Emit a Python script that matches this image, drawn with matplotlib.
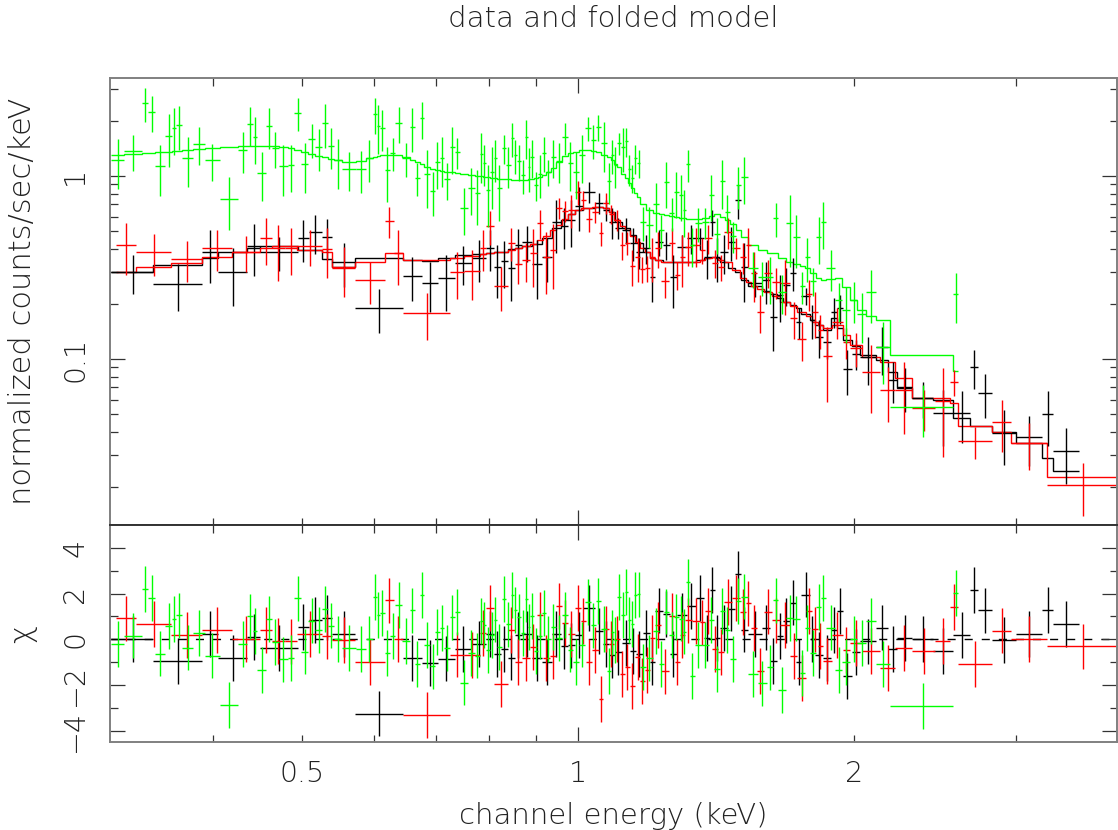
"""
XSPEC-style "data and folded model" plot: three spectra with their folded
model (top, log-log) and the residuals in units of sigma (bottom).
"""
import numpy as np
import matplotlib
matplotlib.use("Agg")
import matplotlib.pyplot as plt
from matplotlib.ticker import FixedLocator, FuncFormatter, NullFormatter

plt.rcParams["font.family"] = ["DejaVu Sans"]
plt.rcParams["font.weight"] = "light"
plt.rcParams["ytick.alignment"] = "center"

# ---- spectrum 1 (black) -----------------------------------------------------
black_edges = [0.310, 0.344, 0.389, 0.405, 0.436, 0.450, 0.495, 0.509, 0.526, 0.540,
               0.571, 0.644, 0.676, 0.704, 0.734, 0.766, 0.794, 0.810, 0.824, 0.839,
               0.854, 0.869, 0.891, 0.913, 0.937, 0.958, 0.975, 0.992, 1.013, 1.044,
               1.065, 1.081, 1.097, 1.117, 1.139, 1.157, 1.177, 1.198, 1.213, 1.238,
               1.260, 1.282, 1.315, 1.345, 1.372, 1.393, 1.411, 1.428, 1.457, 1.483,
               1.506, 1.532, 1.587, 1.620, 1.648, 1.673, 1.703, 1.729, 1.751, 1.791,
               1.813, 1.850, 1.888, 1.916, 1.945, 1.990, 2.030, 2.113, 2.178, 2.228,
               2.313, 2.438, 2.564, 2.676, 2.731, 2.828, 3.004, 3.206, 3.296, 3.519]
black_rate = [0.299, 0.257, 0.384, 0.299, 0.415, 0.384, 0.458, 0.494, 0.464, 0.339,
              0.190, 0.284, 0.260, 0.277, 0.335, 0.356, 0.404, 0.318, 0.343, 0.314,
              0.420, 0.436, 0.330, 0.361, 0.560, 0.533, 0.575, 0.686, 0.818, 0.712,
              0.652, 0.560, 0.520, 0.507, 0.431, 0.384, 0.404, 0.280, 0.436, 0.420,
              0.280, 0.409, 0.458, 0.458, 0.361, 0.560, 0.361, 0.384, 0.436, 0.739,
              0.318, 0.260, 0.270, 0.170, 0.224, 0.254, 0.295, 0.159, 0.221, 0.163,
              0.132, 0.124, 0.181, 0.190, 0.088, 0.107, 0.102, 0.116, 0.0768, 0.0702,
              0.0612, 0.0507, 0.0507, 0.0903, 0.0652, 0.0395, 0.0375, 0.0501, 0.0314]
black_err = [0.071, 0.073, 0.123, 0.105, 0.132, 0.080, 0.117, 0.118, 0.118, 0.092,
             0.051, 0.077, 0.079, 0.093, 0.080, 0.091, 0.103, 0.102, 0.099, 0.106,
             0.093, 0.097, 0.117, 0.097, 0.179, 0.136, 0.164, 0.185, 0.109, 0.095,
             0.087, 0.109, 0.069, 0.082, 0.089, 0.074, 0.072, 0.076, 0.071, 0.074,
             0.090, 0.067, 0.082, 0.062, 0.086, 0.092, 0.097, 0.092, 0.091, 0.154,
             0.113, 0.042, 0.069, 0.059, 0.064, 0.060, 0.061, 0.031, 0.023, 0.034,
             0.031, 0.024, 0.034, 0.034, 0.024, 0.020, 0.030, 0.034, 0.0195, 0.019,
             0.0137, 0.017, 0.016, 0.022, 0.0175, 0.0132, 0.0114, 0.0168, 0.0106]
black_model = [0.299, 0.326, 0.356, 0.384, 0.404, 0.415, 0.394, 0.394, 0.352, 0.318,
               0.356, 0.347, 0.343, 0.356, 0.370, 0.375, 0.380, 0.384, 0.384, 0.399,
               0.404, 0.415, 0.425, 0.458, 0.520, 0.575, 0.620, 0.652, 0.669, 0.677,
               0.669, 0.636, 0.560, 0.520, 0.476, 0.431, 0.384, 0.356, 0.347, 0.339,
               0.339, 0.339, 0.339, 0.347, 0.356, 0.361, 0.356, 0.339, 0.314, 0.299,
               0.270, 0.250, 0.235, 0.226, 0.215, 0.205, 0.197, 0.190, 0.176, 0.163,
               0.153, 0.144, 0.167, 0.148, 0.127, 0.118, 0.105, 0.0988, 0.085, 0.0693,
               0.0612, 0.0597, 0.0477, 0.0432, 0.0432, 0.0400, 0.0348, 0.0288, 0.0244]

# ---- spectrum 2 (red) -------------------------------------------------------
red_edges = [0.314, 0.330, 0.360, 0.389, 0.420, 0.450, 0.464, 0.479, 0.494, 0.526,
             0.540, 0.571, 0.616, 0.630, 0.644, 0.725, 0.751, 0.782, 0.794, 0.810,
             0.839, 0.854, 0.869, 0.886, 0.902, 0.916, 0.932, 0.946, 0.961, 0.975,
             0.992, 1.008, 1.020, 1.036, 1.054, 1.065, 1.081, 1.095, 1.111, 1.125,
             1.139, 1.154, 1.169, 1.183, 1.198, 1.213, 1.232, 1.257, 1.276, 1.292,
             1.308, 1.331, 1.358, 1.375, 1.400, 1.421, 1.443, 1.472, 1.502, 1.525,
             1.544, 1.567, 1.595, 1.627, 1.660, 1.703, 1.734, 1.773, 1.800, 1.827,
             1.850, 1.892, 1.945, 1.980, 2.040, 2.135, 2.217, 2.313, 2.451, 2.545,
             2.594, 2.828, 2.966, 3.246, 3.860]
red_rate = [0.420, 0.384, 0.352, 0.404, 0.384, 0.458, 0.404, 0.404, 0.415, 0.399,
            0.314, 0.270, 0.567, 0.380, 0.178, 0.299, 0.302, 0.404, 0.533, 0.250,
            0.431, 0.330, 0.347, 0.380, 0.553, 0.361, 0.394, 0.669, 0.644, 0.652,
            0.818, 0.739, 0.582, 0.636, 0.488, 0.712, 0.620, 0.575, 0.420, 0.431,
            0.322, 0.361, 0.310, 0.314, 0.361, 0.404, 0.267, 0.431, 0.288, 0.361,
            0.409, 0.420, 0.394, 0.458, 0.335, 0.318, 0.494, 0.404, 0.361, 0.420,
            0.295, 0.181, 0.295, 0.263, 0.260, 0.167, 0.128, 0.226, 0.181, 0.144,
            0.104, 0.159, 0.124, 0.115, 0.085, 0.0677, 0.0677, 0.0541, 0.0590, 0.0749,
            0.0356, 0.0454, 0.0348, 0.0205]
red_err = [0.133, 0.098, 0.090, 0.103, 0.086, 0.131, 0.136, 0.116, 0.092, 0.121,
           0.095, 0.069, 0.110, 0.127, 0.051, 0.085, 0.092, 0.103, 0.111, 0.068,
           0.089, 0.074, 0.084, 0.133, 0.099, 0.133, 0.153, 0.089, 0.086, 0.135,
           0.121, 0.089, 0.087, 0.085, 0.072, 0.095, 0.074, 0.077, 0.074, 0.063,
           0.072, 0.097, 0.051, 0.052, 0.097, 0.090, 0.051, 0.089, 0.051, 0.115,
           0.085, 0.100, 0.064, 0.082, 0.059, 0.052, 0.095, 0.054, 0.070, 0.100,
           0.089, 0.043, 0.052, 0.051, 0.087, 0.038, 0.031, 0.044, 0.051, 0.030,
           0.046, 0.031, 0.024, 0.024, 0.034, 0.0226, 0.0286, 0.0136, 0.030, 0.0122,
           0.0071, 0.0143, 0.0101, 0.0066]
red_model = [0.299, 0.318, 0.335, 0.361, 0.384, 0.404, 0.415, 0.415, 0.394, 0.384,
             0.318, 0.339, 0.380, 0.380, 0.347, 0.356, 0.366, 0.375, 0.380, 0.384,
             0.394, 0.404, 0.415, 0.425, 0.447, 0.470, 0.507, 0.540, 0.582, 0.620,
             0.652, 0.669, 0.669, 0.677, 0.677, 0.669, 0.636, 0.575, 0.533, 0.507,
             0.470, 0.436, 0.404, 0.384, 0.356, 0.347, 0.339, 0.339, 0.339, 0.339,
             0.339, 0.339, 0.347, 0.356, 0.361, 0.347, 0.339, 0.306, 0.277, 0.263,
             0.250, 0.241, 0.232, 0.221, 0.205, 0.195, 0.181, 0.172, 0.159, 0.153,
             0.148, 0.153, 0.135, 0.119, 0.103, 0.0963, 0.0785, 0.0612, 0.0612, 0.0576,
             0.0432, 0.0400, 0.0348, 0.0226]

# ---- spectrum 3 (green) -----------------------------------------------------
green_edges = [0.310, 0.320, 0.335, 0.340, 0.346, 0.355, 0.361, 0.365, 0.370, 0.381,
               0.392, 0.407, 0.426, 0.436, 0.442, 0.447, 0.457, 0.464, 0.472, 0.483,
               0.491, 0.499, 0.508, 0.517, 0.526, 0.534, 0.542, 0.553, 0.573, 0.587,
               0.598, 0.604, 0.608, 0.616, 0.624, 0.632, 0.643, 0.656, 0.664, 0.673,
               0.679, 0.690, 0.699, 0.707, 0.714, 0.725, 0.734, 0.743, 0.759, 0.772,
               0.782, 0.788, 0.794, 0.802, 0.810, 0.816, 0.826, 0.835, 0.845, 0.852,
               0.858, 0.867, 0.875, 0.882, 0.886, 0.895, 0.905, 0.913, 0.923, 0.934,
               0.946, 0.961, 0.975, 0.987, 1.003, 1.018, 1.033, 1.046, 1.059, 1.075,
               1.086, 1.095, 1.103, 1.114, 1.125, 1.134, 1.142, 1.151, 1.160, 1.169,
               1.186, 1.207, 1.226, 1.241, 1.257, 1.273, 1.288, 1.302, 1.311, 1.325,
               1.341, 1.365, 1.389, 1.407, 1.428, 1.446, 1.465, 1.487, 1.506, 1.532,
               1.571, 1.607, 1.632, 1.653, 1.686, 1.716, 1.746, 1.768, 1.791, 1.818,
               1.841, 1.864, 1.907, 1.941, 1.980, 2.015, 2.061, 2.113, 2.189, 2.564,
               2.597]
green_rate = [1.22, 1.37, 2.50, 2.24, 1.13, 1.65, 1.83, 1.90, 1.25, 1.50,
              1.22, 0.749, 1.39, 1.92, 1.63, 1.04, 1.88, 1.42, 1.13, 1.15,
              2.21, 1.16, 1.59, 1.44, 1.95, 1.46, 1.22, 1.09, 1.09, 1.25,
              2.18, 1.88, 1.83, 1.08, 1.34, 1.95, 1.25, 1.85, 0.975, 2.07,
              1.03, 0.828, 1.19, 1.25, 0.963, 1.44, 1.35, 0.669, 0.860, 0.807,
              1.32, 1.18, 0.839, 1.05, 1.25, 0.860, 1.42, 1.15, 1.61, 1.30,
              1.21, 1.01, 1.63, 1.12, 1.27, 0.893, 1.03, 1.34, 1.05, 1.27,
              1.21, 1.63, 1.18, 1.05, 1.30, 1.83, 1.57, 1.85, 1.51, 0.939,
              1.30, 1.15, 1.51, 1.44, 1.55, 1.09, 0.975, 1.25, 1.18, 0.560,
              0.540, 0.703, 0.507, 0.927, 0.628, 0.818, 0.787, 0.652, 1.16, 0.420,
              0.553, 0.560, 0.787, 0.482, 0.939, 0.636, 0.470, 0.893, 0.987, 0.314,
              0.280, 0.280, 0.589, 0.232, 0.553, 0.464, 0.250, 0.361, 0.267, 0.464,
              0.560, 0.314, 0.210, 0.185, 0.210, 0.176, 0.232, 0.116, 0.0548, 0.226]
green_err = [0.37, 0.31, 0.53, 0.50, 0.35, 0.53, 0.52, 0.51, 0.38, 0.35,
             0.28, 0.24, 0.35, 0.46, 0.47, 0.31, 0.47, 0.32, 0.35, 0.33,
             0.46, 0.35, 0.33, 0.37, 0.52, 0.37, 0.37, 0.26, 0.28, 0.32,
             0.49, 0.56, 0.46, 0.36, 0.27, 0.43, 0.26, 0.50, 0.20, 0.47,
             0.36, 0.22, 0.34, 0.38, 0.22, 0.41, 0.26, 0.19, 0.25, 0.27,
             0.40, 0.30, 0.31, 0.39, 0.32, 0.29, 0.26, 0.29, 0.34, 0.27,
             0.27, 0.21, 0.39, 0.30, 0.30, 0.16, 0.27, 0.29, 0.17, 0.30,
             0.30, 0.32, 0.35, 0.30, 0.38, 0.27, 0.33, 0.30, 0.46, 0.24,
             0.27, 0.29, 0.21, 0.39, 0.28, 0.21, 0.17, 0.23, 0.21, 0.117,
             0.137, 0.21, 0.105, 0.26, 0.13, 0.23, 0.22, 0.19, 0.23, 0.10,
             0.116, 0.109, 0.22, 0.107, 0.28, 0.15, 0.09, 0.23, 0.28, 0.070,
             0.059, 0.081, 0.123, 0.056, 0.234, 0.148, 0.049, 0.097, 0.047, 0.133,
             0.161, 0.080, 0.050, 0.062, 0.053, 0.053, 0.074, 0.043, 0.0172, 0.069]
green_model = [1.30, 1.32, 1.34, 1.34, 1.35, 1.35, 1.37, 1.37, 1.39, 1.40,
               1.42, 1.44, 1.46, 1.46, 1.46, 1.46, 1.46, 1.46, 1.44, 1.42,
               1.39, 1.35, 1.32, 1.29, 1.27, 1.24, 1.22, 1.19, 1.21, 1.25,
               1.27, 1.29, 1.30, 1.30, 1.30, 1.30, 1.27, 1.22, 1.19, 1.16,
               1.12, 1.09, 1.08, 1.06, 1.05, 1.05, 1.04, 1.03, 1.01, 1.00,
               1.00, 0.99, 0.99, 0.975, 0.975, 0.963, 0.963, 0.963, 0.951, 0.951,
               0.951, 0.951, 0.951, 0.963, 0.963, 0.975, 0.99, 1.01, 1.05, 1.11,
               1.19, 1.29, 1.34, 1.35, 1.39, 1.39, 1.37, 1.35, 1.30, 1.27,
               1.22, 1.16, 1.12, 1.03, 0.975, 0.916, 0.860, 0.807, 0.768, 0.703,
               0.652, 0.628, 0.620, 0.612, 0.604, 0.597, 0.589, 0.589, 0.582, 0.582,
               0.582, 0.589, 0.604, 0.620, 0.597, 0.575, 0.547, 0.507, 0.464, 0.420,
               0.394, 0.380, 0.380, 0.356, 0.339, 0.330, 0.322, 0.314, 0.295, 0.277,
               0.270, 0.273, 0.277, 0.247, 0.210, 0.185, 0.172, 0.163, 0.105, 0.0860]

SPECTRA = [
    (black_edges, black_rate, black_err, black_model, "#000000"),
    (red_edges, red_rate, red_err, red_model, "#ff0000"),
    (green_edges, green_rate, green_err, green_model, "#00ff00"),
]

# Mise en page (pixels of the 1118x830 target)
_W, _H = 1118, 830
_LEFT, _RIGHT = 110, 1117
_TOP, _MID, _BOT = 78, 525, 742
_TXT = "#222222"
_FRAME = "#808080"
_FS = 20.5
_XLIM = (0.309, 3.87)


def _style_axes(ax):
    for sp in ax.spines.values():
        sp.set_color(_FRAME)
        sp.set_linewidth(1.4)
    ax.tick_params(which="both", direction="in", top=True, right=True,
                   color="#333333", width=0.9, labelcolor=_TXT, labelsize=_FS)
    ax.tick_params(which="major", length=10.8)
    ax.tick_params(which="minor", length=5.4)
    ax.tick_params(axis="y", which="both", labelrotation=90, pad=15)
    ax.tick_params(axis="x", which="both", pad=13)
    ax.set_xscale("log")
    ax.set_xlim(*_XLIM)
    ax.xaxis.set_major_locator(FixedLocator([1.0]))
    ax.xaxis.set_minor_locator(FixedLocator([0.4, 0.5, 0.6, 0.7, 0.8, 0.9, 2.0, 3.0]))


def main():
    fig = plt.figure(figsize=(_W / 100, _H / 100), dpi=100)
    ax_top = fig.add_axes([_LEFT / _W, 1 - _MID / _H, (_RIGHT - _LEFT) / _W, (_MID - _TOP) / _H])
    ax_bot = fig.add_axes([_LEFT / _W, 1 - _BOT / _H, (_RIGHT - _LEFT) / _W, (_BOT - _MID) / _H])

    for edges, rate, err, model, col in SPECTRA:
        edges = np.asarray(edges)
        rate, err, model = np.asarray(rate), np.asarray(err), np.asarray(model)
        lo, hi = edges[:-1], edges[1:]
        mid = 0.5 * (lo + hi)
        xerr = [mid - lo, hi - mid]

        ax_top.errorbar(mid, rate, xerr=xerr, yerr=err, fmt="none",
                        ecolor=col, elinewidth=1.0, capsize=0)
        ax_top.stairs(model, edges, baseline=None, color=col, lw=1.0)

        chi = (rate - model) / err
        ax_bot.errorbar(mid, chi, xerr=xerr, yerr=np.ones_like(chi), fmt="none",
                        ecolor=col, elinewidth=1.0, capsize=0)

    ax_bot.axhline(0, color="black", lw=1.0, ls=(0, (5.8, 6.5)), zorder=0)

    _style_axes(ax_top)
    _style_axes(ax_bot)
    # le trait entre les deux panneaux est plus sombre
    ax_top.spines["bottom"].set_color("#333333")
    ax_bot.spines["top"].set_color("#333333")

    # panneau du haut
    ax_top.set_yscale("log")
    ax_top.set_ylim(0.0124, 3.43)
    ax_top.yaxis.set_major_locator(FixedLocator([0.1, 1.0]))
    ax_top.yaxis.set_minor_locator(FixedLocator(
        [0.02, 0.03, 0.04, 0.05, 0.06, 0.07, 0.08, 0.09,
         0.2, 0.3, 0.4, 0.5, 0.6, 0.7, 0.8, 0.9, 2.0, 3.0]))
    ax_top.yaxis.set_major_formatter(FuncFormatter(lambda v, _: f"{v:g}"))
    ax_top.yaxis.set_minor_formatter(NullFormatter())
    ax_top.xaxis.set_major_formatter(NullFormatter())
    ax_top.xaxis.set_minor_formatter(NullFormatter())

    # residus
    ax_bot.set_ylim(-4.5, 5.0)
    ax_bot.yaxis.set_major_locator(FixedLocator([-4, -2, 0, 2, 4]))
    ax_bot.yaxis.set_minor_locator(FixedLocator([-3, -1, 1, 3]))
    ax_bot.yaxis.set_major_formatter(FuncFormatter(lambda v, _: f"{v:g}".replace("-", "\u2212")))
    ax_bot.xaxis.set_major_formatter(FuncFormatter(lambda v, _: f"{v:g}"))
    ax_bot.xaxis.set_minor_formatter(
        FuncFormatter(lambda v, _: f"{v:g}" if round(v, 2) in (0.5, 2.0) else ""))

    fig.text(0.5 * (_LEFT + _RIGHT) / _W, 1 - 19 / _H, "data and folded model",
             ha="center", va="center", fontsize=21, color=_TXT)
    fig.text(0.5 * (_LEFT + _RIGHT) / _W, 1 - 816 / _H, "channel energy (keV)",
             ha="center", va="center", fontsize=21, color=_TXT)
    fig.text(23 / _W, 1 - 0.5 * (_TOP + _MID) / _H, "normalized counts/sec/keV",
             ha="center", va="center", rotation=90, fontsize=22, color=_TXT)
    fig.text(23 / _W, 1 - 634 / _H, "\u03c7", ha="center", va="center",
             rotation=90, fontsize=22, color=_TXT)

    fig.savefig("out.png", dpi=100)


if __name__ == "__main__":
    main()
